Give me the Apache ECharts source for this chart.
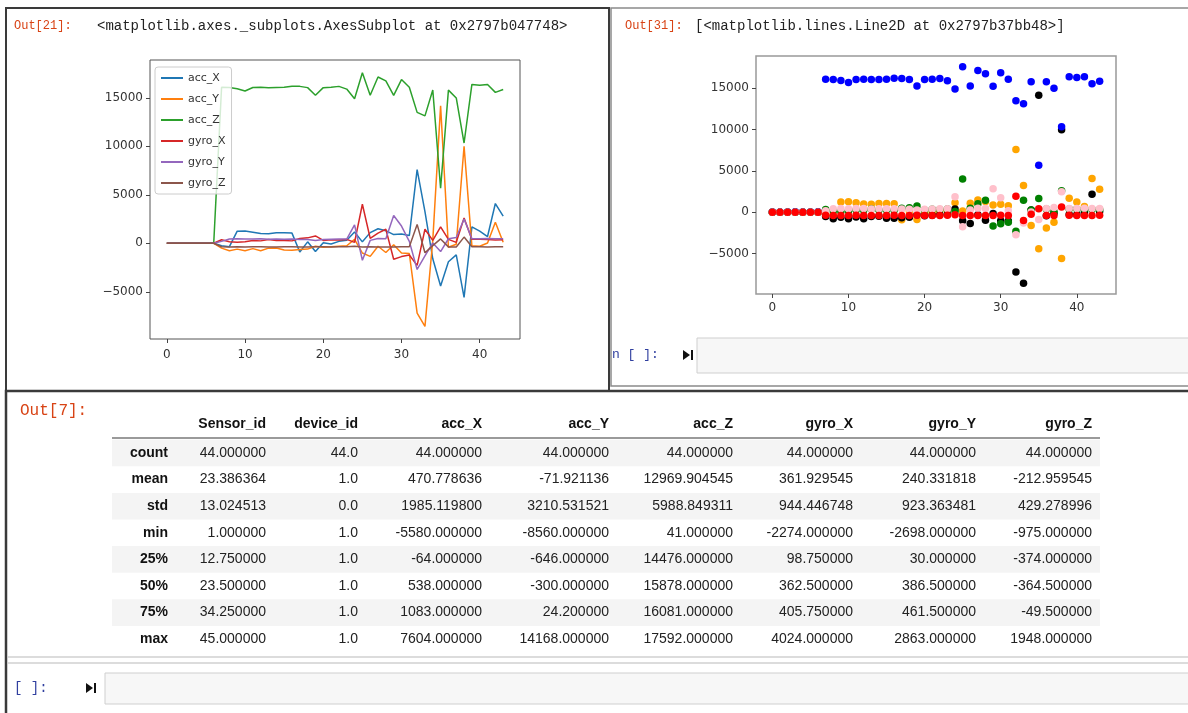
<!DOCTYPE html>
<html>
<head>
<meta charset="utf-8">
<title>sensor readings</title>
<script src="https://cdn.jsdelivr.net/npm/echarts@6.0.0/dist/echarts.min.js"></script>
<style>
html, body { margin: 0; padding: 0; background: #fff; }
#main { width: 1188px; height: 713px; }
</style>
</head>
<body>
<div id="main"></div>
<script>
// row index of each reading
var idx = [0, 1, 2, 3, 4, 5, 6, 7, 8, 9, 10, 11, 12, 13, 14, 15, 16, 17, 18, 19, 20, 21,
  22, 23, 24, 25, 26, 27, 28, 29, 30, 31, 32, 33, 34, 35, 36, 37, 38, 39, 40, 41, 42, 43];

// sensor columns
var accX = [0, 0, 0, 0, 0, 0, 0, -250, -350, 1250, 1280, 1150, 1000, 980, 1080, 1083, 1050, -900,
  150, -850, 60, -64, 200, 320, 1170, 150, 1100, 1500, 1300, 900, 970, 800, 7604, 3260, -1600,
  -4400, -1900, -1200, -5580, 1700, 1250, 700, 4100, 2800];
var accY = [0, 0, 0, 0, 0, 0, 0, -500, -760, -600, -760, -550, -760, -500, -480, -700, -720, -646,
  -600, -300, -400, -350, -300, -250, 400, -1000, -1350, -300, -950, -150, -1000, -1050, -7200,
  -8560, 300, 14168, -400, -100, 10000, -250, -300, 24, 2180, 100];
var accZ = [41, 52, 48, 60, 45, 57, 63, 16080, 16060, 15940, 15700, 16060, 16080, 16050, 16070,
  16090, 16200, 16180, 16050, 15270, 16050, 16100, 16180, 15900, 14900, 17592, 15270, 17150,
  16750, 15250, 16880, 16080, 13500, 13140, 15800, 5680, 15790, 14990, 10340, 16380, 16290,
  16380, 15560, 15856];
var gyroX = [0, 0, 0, 0, 0, 0, 0, 360, 150, 100, 150, 300, 250, 400, 280, 300, 250, 500, 560, 760,
  300, 362, 350, 400, 100, 4024, 500, 1050, 1450, -1650, -1370, -1200, -2274, 1450, 300, 1690,
  400, 98, 2600, 405, 420, 380, 350, 360];
var gyroY = [0, 0, 0, 0, 0, 0, 0, 200, 450, 460, 440, 455, 461, 420, 450, 430, 450, 400, 386, 300,
  380, 420, 450, 440, 1900, -1750, 300, 500, 460, 2863, 1780, 200, -2698, -1300, 30, -850, 470,
  600, 2500, 470, 480, 500, 460, 470];
var gyroZ = [0, 0, 0, 0, 0, 0, 0, -360, -370, -365, -374, -360, -364, -380, -370, -365, -360, -375,
  -370, -360, -365, -370, -364, -360, -300, -380, -365, -370, -374, -380, -360, -365, 1948, -975,
  -240, 450, -370, -380, 640, -360, -364, -370, -365, -360];

var seriesNames = ['acc_X', 'acc_Y', 'acc_Z', 'gyro_X', 'gyro_Y', 'gyro_Z'];
var xTicks = [0, 10, 20, 30, 40];
var yTicks = [-5000, 0, 5000, 10000, 15000];

// describe() table
var tableCols = ['Sensor_id', 'device_id', 'acc_X', 'acc_Y', 'acc_Z', 'gyro_X', 'gyro_Y', 'gyro_Z'];
var tableRows = ['count', 'mean', 'std', 'min', '25%', '50%', '75%', 'max'];
var rowCount = ['44.000000', '44.0', '44.000000', '44.000000', '44.000000', '44.000000', '44.000000', '44.000000'];
var rowMean = ['23.386364', '1.0', '470.778636', '-71.921136', '12969.904545', '361.929545', '240.331818', '-212.959545'];
var rowStd = ['13.024513', '0.0', '1985.119800', '3210.531521', '5988.849311', '944.446748', '923.363481', '429.278996'];
var rowMin = ['1.000000', '1.0', '-5580.000000', '-8560.000000', '41.000000', '-2274.000000', '-2698.000000', '-975.000000'];
var rowQ1 = ['12.750000', '1.0', '-64.000000', '-646.000000', '14476.000000', '98.750000', '30.000000', '-374.000000'];
var rowMed = ['23.500000', '1.0', '538.000000', '-300.000000', '15878.000000', '362.500000', '386.500000', '-364.500000'];
var rowQ3 = ['34.250000', '1.0', '1083.000000', '24.200000', '16081.000000', '405.750000', '461.500000', '-49.500000'];
var rowMax = ['45.000000', '1.0', '7604.000000', '14168.000000', '17592.000000', '4024.000000', '2863.000000', '1948.000000'];
var tableBody = [rowCount, rowMean, rowStd, rowMin, rowQ1, rowMed, rowQ3, rowMax];

var chart = echarts.init(document.getElementById('main'));

var lineColors = ['#1f77b4', '#ff7f0e', '#2ca02c', '#d62728', '#9467bd', '#8c564b'];
var dotColors = ['#ffa500', '#000000', '#0000ff', '#008000', '#ffc0cb', '#ff0000'];
var allCols = [accX, accY, accZ, gyroX, gyroY, gyroZ];

function pairs(arr) {
  return idx.map(function (i) { return [i, arr[i]]; });
}
function minusSign(v) {
  return String(v).replace('-', '\u2212');
}

function xAxisFor(g, margin) {
  return {
    type: 'value', gridIndex: g, min: -2.15, max: 45.15,
    axisLine: { show: false, onZero: false },
    splitLine: { show: false },
    axisTick: { show: true, length: 4, customValues: xTicks, lineStyle: { color: '#444' } },
    axisLabel: { customValues: xTicks, color: '#333', fontSize: 12, fontFamily: 'DejaVu Sans', margin: margin }
  };
}
function yAxisFor(g) {
  return {
    type: 'value', gridIndex: g, min: -9867, max: 18899,
    axisLine: { show: false, onZero: false },
    splitLine: { show: false },
    axisTick: { show: true, length: 4, customValues: yTicks, lineStyle: { color: '#444' } },
    axisLabel: { customValues: yTicks, color: '#333', fontSize: 12, fontFamily: 'DejaVu Sans', margin: 7, formatter: minusSign }
  };
}

var series = [];
// left: df.plot()
allCols.forEach(function (col, k) {
  series.push({
    name: seriesNames[k], type: 'line', xAxisIndex: 0, yAxisIndex: 0,
    symbol: 'none', data: pairs(col),
    lineStyle: { width: 1.5, color: lineColors[k] },
    itemStyle: { color: lineColors[k] }
  });
});
// right: plt.plot(..., 'o')
allCols.forEach(function (col, k) {
  series.push({
    name: seriesNames[k] + ' pts', type: 'scatter', xAxisIndex: 1, yAxisIndex: 1,
    symbolSize: 7.5, data: pairs(col),
    itemStyle: { color: dotColors[k], opacity: 1 }
  });
});

// notebook chrome and table
var mono = '"Liberation Mono", "DejaVu Sans Mono", monospace';
var sans = '"Liberation Sans", Arial, sans-serif';
var g = [];
function txt(x, y, s, font, color, align) {
  g.push({
    type: 'text', x: x, y: y, z: 10,
    style: { text: s, font: font, fill: color, align: align || 'left', textAlign: align || 'left',
      verticalAlign: 'middle', textVerticalAlign: 'middle' }
  });
}
function box(x, y, w, h, fill, stroke, lw, z) {
  g.push({ type: 'rect', z: z || 1, shape: { x: x, y: y, width: w, height: h },
    style: { fill: fill, stroke: stroke, lineWidth: lw } });
}
function runIcon(x, y) {
  g.push({ type: 'polygon', z: 10, shape: { points: [[x, y - 5], [x + 7, y], [x, y + 5]] }, style: { fill: '#111' } });
  g.push({ type: 'rect', z: 10, shape: { x: x + 8, y: y - 5, width: 2, height: 10 }, style: { fill: '#111' } });
}

// panels
box(6, 8, 603, 383, 'transparent', '#3a3a3a', 2);
box(611, 8, 590, 378, 'transparent', '#8a8a8a', 1.5);
box(6, 391, 1200, 340, 'transparent', '#3a3a3a', 2.5);

txt(14, 26, 'Out[21]:', '12px ' + mono, '#d84315');
txt(97, 26, '<matplotlib.axes._subplots.AxesSubplot at 0x2797b047748>', '14px ' + mono, '#222');
txt(625, 26, 'Out[31]:', '12px ' + mono, '#d84315');
txt(695, 26, '[<matplotlib.lines.Line2D at 0x2797b37bb48>]', '14px ' + mono, '#222');

// input cell inside the right panel
txt(612, 355, 'n [ ]:', '13px ' + mono, '#303f9f');
runIcon(683, 355);
box(697, 338, 500, 35, '#f7f7f7', '#cfcfcf', 1);

// describe() output
txt(20, 411, 'Out[7]:', '16px ' + mono, '#d84315');
var colRight = [266, 358, 482, 609, 733, 853, 976, 1092];
var headY = 424, row0 = 453, rowH = 26.6;
tableRows.forEach(function (r, i) {
  if (i % 2 === 0) box(112, row0 + i * rowH - rowH / 2, 988, rowH, '#f4f4f4', null, 0, 0);
});
g.push({ type: 'line', z: 5, shape: { x1: 112, y1: 438, x2: 1100, y2: 438 }, style: { stroke: '#9a9a9a', lineWidth: 2 } });
tableCols.forEach(function (c, j) {
  txt(colRight[j], headY, c, 'bold 14px ' + sans, '#111', 'right');
});
tableRows.forEach(function (r, i) {
  var y = row0 + i * rowH;
  txt(168, y, r, 'bold 14px ' + sans, '#111', 'right');
  tableBody[i].forEach(function (v, j) {
    txt(colRight[j], y, v, '14px ' + sans, '#222', 'right');
  });
});

// empty input cell at the bottom
g.push({ type: 'line', z: 5, shape: { x1: 8, y1: 657, x2: 1188, y2: 657 }, style: { stroke: '#d0d0d0', lineWidth: 1.5 } });
g.push({ type: 'line', z: 5, shape: { x1: 8, y1: 663, x2: 1188, y2: 663 }, style: { stroke: '#d0d0d0', lineWidth: 1.5 } });
txt(14, 688, '[ ]:', '14px ' + mono, '#303f9f');
runIcon(86, 688);
box(105, 673, 1100, 31, '#f7f7f7', '#cfcfcf', 1);

var option = {
  animation: false,
  backgroundColor: '#fff',
  grid: [
    { left: 150, top: 60, width: 370, height: 279, show: true, borderColor: '#555', borderWidth: 1 },
    { left: 756, top: 56, width: 360, height: 238, show: true, borderColor: '#999', borderWidth: 1.5 }
  ],
  xAxis: [xAxisFor(0, 10), xAxisFor(1, 8)],
  yAxis: [yAxisFor(0), yAxisFor(1)],
  legend: {
    data: seriesNames, orient: 'vertical', left: 155, top: 67,
    icon: 'rect', itemWidth: 22, itemHeight: 2, itemGap: 7,
    padding: [4, 6, 4, 6],
    backgroundColor: 'rgba(255,255,255,0.8)', borderColor: '#cccccc', borderWidth: 1, borderRadius: 3,
    textStyle: { fontSize: 11, fontFamily: 'DejaVu Sans', color: '#333', lineHeight: 14 }
  },
  graphic: g,
  series: series
};
chart.setOption(option);
</script>
</body>
</html>
